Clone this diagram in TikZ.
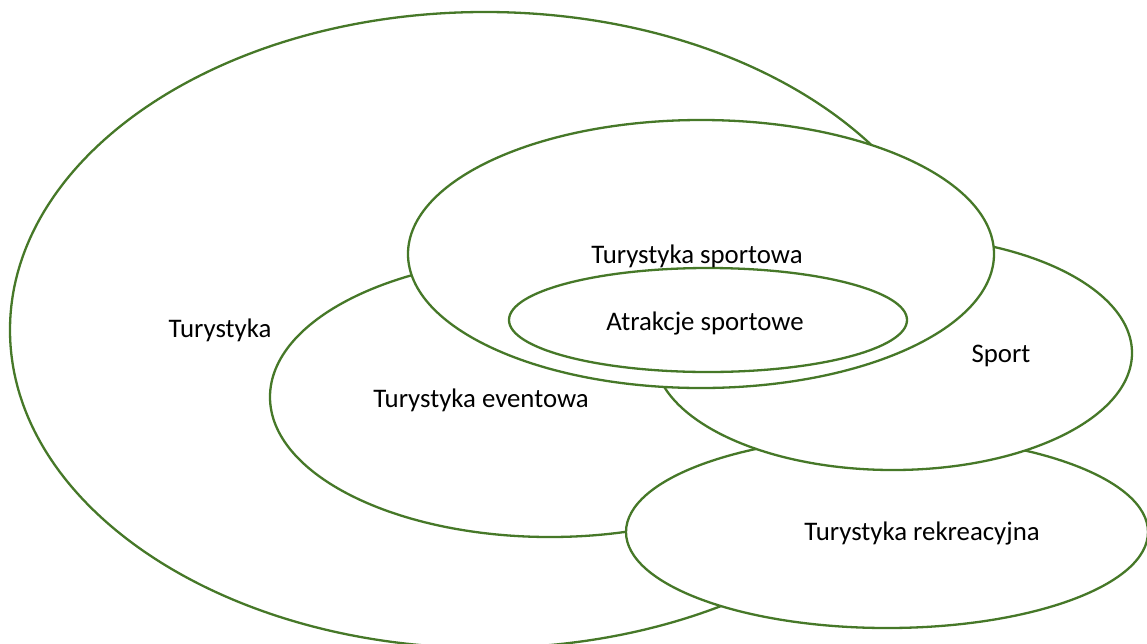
\documentclass[tikz,border=0pt]{standalone}
\usepackage{fontspec}
\setmainfont{Carlito}
\usetikzlibrary{shapes.geometric}
\definecolor{setgreen}{RGB}{70,120,40}

\begin{document}
\begin{tikzpicture}[x=1pt, y=-1pt, set node/.style={ellipse, draw=setgreen, fill=white, line width=2.3pt, inner sep=0pt}, label node/.style={font=\fontsize{26.8}{30}\selectfont, inner sep=0pt}]
                \useasboundingbox (0,0) rectangle (1147,643);
                % sets, from back to front
                \node[set node, minimum width=950, minimum height=636] (turystyka) at (485,330) {};
                \node[set node, minimum width=560, minimum height=280] (eventowa) at (550,397) {};
                \node[set node, minimum width=522, minimum height=192] (rekreacyjna) at (887,532) {};
                \node[set node, minimum width=478, minimum height=234] (sport) at (893,353) {};
                \node[set node, minimum width=586, minimum height=268] (sportowa) at (701,254) {};
                \node[set node, minimum width=398, minimum height=104] (atrakcje) at (708,320) {};

                \node[label node] (l1) at (220,330) {Turystyka};
                \node[label node] (l2) at (697,256) {Turystyka sportowa};
                \node[label node] (l3) at (705,323) {Atrakcje sportowe};
                \node[label node] (l4) at (1001,356) {Sport};
                \node[label node] (l5) at (481,400) {Turystyka eventowa};
                \node[label node] (l6) at (922,533) {Turystyka rekreacyjna};
            \end{tikzpicture}
\end{document}
